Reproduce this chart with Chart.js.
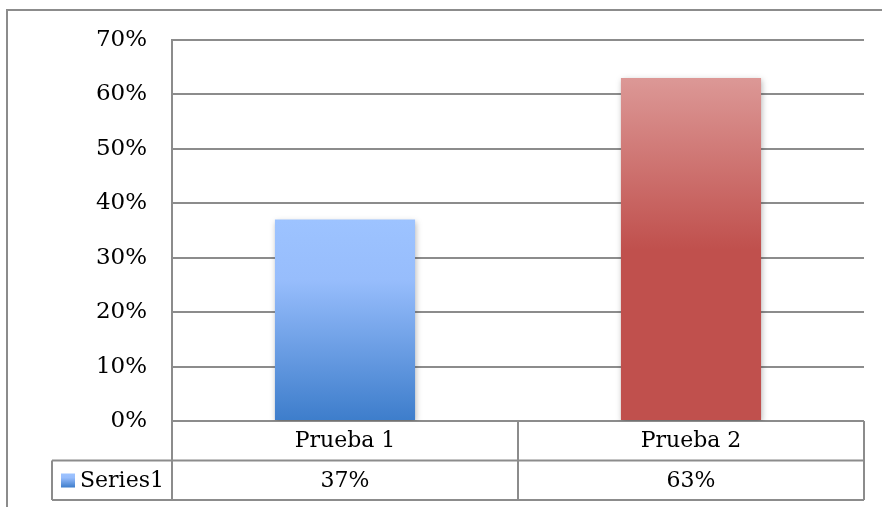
<!DOCTYPE html>
<html>
<head>
<meta charset="utf-8">
<script src="https://cdn.jsdelivr.net/npm/chart.js@4/dist/chart.umd.min.js"></script>
<style>
  html, body { margin: 0; padding: 0; background: #fff; }
  #wrap { width: 882px; height: 507px; }
</style>
</head>
<body>
<div id="wrap"><canvas id="chart" width="882" height="507"></canvas></div>
<script>
// datos
const categories = ['Prueba 1', 'Prueba 2'];
const seriesName = 'Series1';
const seriesValues = [37, 63];
const yTicks = [0, 10, 20, 30, 40, 50, 60, 70];

const FONT = '"DejaVu Serif", serif';
const LINE = '#8c8c8c';

// degradados de cada barra (arriba -> abajo)
const barStops = [
  [[0, '#9dc3ff'], [0.3, '#97bdfc'], [1, '#3d7dcb']],
  [[0, '#dc9896'], [0.5, '#c0504d'], [1, '#c0504d']]
];

function barFill(context) {
  const chart = context.chart;
  const area = chart.chartArea;
  const i = context.dataIndex;
  if (!area || !chart.scales.y) return barStops[i][1][1];
  const y = chart.scales.y;
  const top = y.getPixelForValue(seriesValues[i]);
  const base = y.getPixelForValue(0);
  const g = chart.ctx.createLinearGradient(0, top, 0, base);
  barStops[i].forEach(([p, c]) => g.addColorStop(p, c));
  return g;
}

// sombra suave detrás de las barras
const barShadow = {
  id: 'barShadow',
  beforeDatasetsDraw(chart) {
    const ctx = chart.ctx;
    ctx.save();
    ctx.shadowColor = 'rgba(0,0,0,0.28)';
    ctx.shadowBlur = 6;
    ctx.shadowOffsetX = 1;
    ctx.shadowOffsetY = 2;
  },
  afterDatasetsDraw(chart) {
    chart.ctx.restore();
  }
};

// marco exterior y tabla de datos bajo el eje
const dataTable = {
  id: 'dataTable',
  afterDraw(chart) {
    const ctx = chart.ctx;
    const { left, right, bottom } = chart.chartArea;
    const x = chart.scales.x;
    const rowH = 39.5;
    const r1 = bottom + rowH;
    const r2 = r1 + rowH;
    const legendLeft = 52;

    ctx.save();
    ctx.strokeStyle = LINE;
    ctx.lineWidth = 2;
    ctx.strokeRect(7, 10, 900, 520);

    ctx.beginPath();
    ctx.moveTo(legendLeft, r1); ctx.lineTo(right, r1);
    ctx.moveTo(legendLeft, r2); ctx.lineTo(right, r2);
    ctx.moveTo(legendLeft, r1); ctx.lineTo(legendLeft, r2);
    ctx.moveTo(left, bottom); ctx.lineTo(left, r2);
    ctx.moveTo(right, bottom); ctx.lineTo(right, r2);
    for (let i = 1; i < categories.length; i++) {
      const xm = (x.getPixelForValue(i - 1) + x.getPixelForValue(i)) / 2;
      ctx.moveTo(xm, bottom); ctx.lineTo(xm, r2);
    }
    ctx.stroke();

    ctx.fillStyle = '#000';
    ctx.font = '22px ' + FONT;
    ctx.textAlign = 'center';
    ctx.textBaseline = 'middle';
    categories.forEach((c, i) => {
      const cx = x.getPixelForValue(i);
      ctx.fillText(c, cx, bottom + rowH / 2 + 1);
      ctx.fillText(seriesValues[i] + '%', cx, r1 + rowH / 2 + 1);
    });

    // clave de leyenda
    const kx = 61, ky = r1 + 13, ks = 14;
    const kg = ctx.createLinearGradient(0, ky, 0, ky + ks);
    barStops[0].forEach(([p, c]) => kg.addColorStop(p, c));
    ctx.fillStyle = kg;
    ctx.fillRect(kx, ky, ks, ks);
    ctx.fillStyle = '#000';
    ctx.textAlign = 'left';
    ctx.fillText(seriesName, kx + ks + 5, r1 + rowH / 2 + 1);
    ctx.restore();
  }
};

new Chart(document.getElementById('chart'), {
  type: 'bar',
  data: {
    labels: categories,
    datasets: [{
      label: seriesName,
      data: seriesValues,
      backgroundColor: barFill,
      borderWidth: 0,
      categoryPercentage: 1,
      barPercentage: 0.405
    }]
  },
  options: {
    responsive: false,
    animation: false,
    layout: { padding: { top: 40, right: 18, bottom: 86, left: 0 } },
    plugins: {
      legend: { display: false },
      tooltip: { enabled: false }
    },
    scales: {
      x: { display: false },
      y: {
        min: 0,
        max: 70,
        afterFit(scale) { scale.width = 172; },
        afterBuildTicks(scale) { scale.ticks = yTicks.map(v => ({ value: v })); },
        border: { display: true, color: LINE, width: 2 },
        grid: { color: LINE, lineWidth: 2, drawTicks: false },
        ticks: {
          padding: 25,
          color: '#000',
          font: { family: FONT, size: 23 },
          callback: v => v + '%'
        }
      }
    }
  },
  plugins: [barShadow, dataTable]
});
</script>
</body>
</html>
